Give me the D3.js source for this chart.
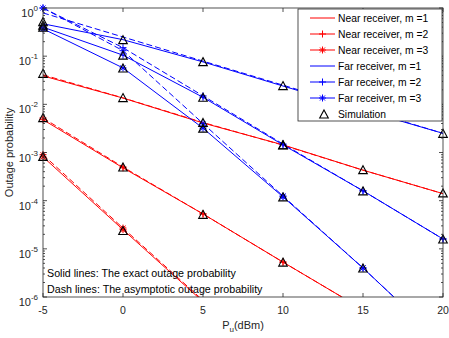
<!DOCTYPE html>
<html><head><meta charset="utf-8">
<script src="https://cdn.jsdelivr.net/npm/d3@7"></script>
<style>body{margin:0;background:#fff}svg{font-family:"Liberation Sans",Arial,sans-serif}</style>
</head><body><svg id="c" width="449" height="338"></svg>
<script>
const pu = [-5, 0, 5, 10, 15, 20];
const xTicks = [-5, 0, 5, 10, 15, 20];
const yTickExps = [0, -1, -2, -3, -4, -5, -6];

const nearExact1 = [0.039, 0.0135, 0.0041, 0.00144, 4.3e-4, 1.4e-4];
const nearAsym1  = [0.041, 0.0136, 0.0042, 0.00142, 4.3e-4, 1.4e-4];
const nearExact2 = [0.0048, 4.8e-4, 5.3e-5, 5.3e-6, 5.5e-7, 5.5e-8];
const nearAsym2  = [0.0052, 5.0e-4, 5.3e-5, 5.3e-6, 5.5e-7, 5.5e-8];
const nearExact3 = [8.1e-4, 2.5e-5, 8.0e-7, 2.6e-8, 8.2e-10, 2.6e-11];
const nearAsym3  = [9.0e-4, 2.7e-5, 8.5e-7, 2.7e-8, 8.4e-10, 2.6e-11];
const farExact1  = [0.47, 0.22, 0.076, 0.024, 0.0076, 0.0025];
const farAsym1   = [0.79, 0.25, 0.079, 0.025, 0.0079, 0.0025];
const farExact2  = [0.40, 0.105, 0.014, 0.00144, 1.6e-4, 1.6e-5];
const farAsym2   = [1.0, 0.15, 0.015, 0.0015, 1.6e-4, 1.6e-5];
const farExact3  = [0.37, 0.057, 0.0032, 1.2e-4, 4.0e-6, 1.1e-7];
const farAsym3   = [1.0, 0.13, 0.0040, 1.25e-4, 4.0e-6, 1.1e-7];

const simNear1 = [0.044, 0.0138, 0.0042, 0.00145, 4.4e-4, 1.45e-4];
const simNear2 = [0.0053, 5.0e-4, 5.2e-5, 5.3e-6, null, null];
const simNear3 = [8.3e-4, 2.4e-5, null, null, null, null];
const simFar1  = [0.52, 0.22, 0.077, 0.0245, 0.0077, 0.0025];
const simFar2  = [0.44, 0.105, 0.014, 0.00144, 1.6e-4, 1.6e-5];
const simFar3  = [0.40, 0.057, 0.0032, 1.2e-4, 4.0e-6, null];

const legendLabels = ["Near receiver, m =1", "Near receiver, m =2", "Near receiver, m =3",
  "Far receiver, m =1", "Far receiver, m =2", "Far receiver, m =3", "Simulation"];
const noteLines = ["Solid lines: The exact outage probability", "Dash lines: The asymptotic outage probability"];

const RED = "#ff0000", BLUE = "#0000ff", AX = "#262626";
const svg = d3.select("#c");
const L = 43, R = 443, T = 8, B = 297;
const x = d3.scaleLinear().domain([-5, 20]).range([L, R]);
const y = d3.scaleLog().domain([1e-6, 1]).range([B, T]);

svg.append("defs").append("clipPath").attr("id", "clip")
  .append("rect").attr("x", L).attr("y", T).attr("width", R - L).attr("height", B - T);

const series = [
  {exact: nearExact1, asym: nearAsym1, sim: simNear1, color: RED, marker: null},
  {exact: nearExact2, asym: nearAsym2, sim: simNear2, color: RED, marker: "plus"},
  {exact: nearExact3, asym: nearAsym3, sim: simNear3, color: RED, marker: "star"},
  {exact: farExact1, asym: farAsym1, sim: simFar1, color: BLUE, marker: null},
  {exact: farExact2, asym: farAsym2, sim: simFar2, color: BLUE, marker: "plus"},
  {exact: farExact3, asym: farAsym3, sim: simFar3, color: BLUE, marker: "star"}
];

function markerPath(type, s) {
  const h = s / 2;
  if (type === "plus") return `M${-h},0H${h}M0,${-h}V${h}`;
  if (type === "star") {
    const d = h * 0.72;
    return `M${-h},0H${h}M0,${-h}V${h}M${-d},${-d}L${d},${d}M${-d},${d}L${d},${-d}`;
  }
  if (type === "tri") {
    const w = 4.3, hh = 4.0;
    return `M0,${-hh}L${w},${hh}L${-w},${hh}Z`;
  }
  return "";
}

const line = d3.line().x((d, i) => x(pu[i])).y(d => y(d));
const plotG = svg.append("g").attr("clip-path", "url(#clip)");

series.forEach(s => {
  plotG.append("path").attr("d", line(s.asym)).attr("fill", "none")
    .attr("stroke", s.color).attr("stroke-width", 1).attr("stroke-dasharray", "6,3");
});
series.forEach(s => {
  plotG.append("path").attr("d", line(s.exact)).attr("fill", "none")
    .attr("stroke", s.color).attr("stroke-width", 1);
});

const mk = svg.append("g");
series.forEach(s => {
  if (!s.marker) return;
  [s.asym, s.exact].forEach(arr => {
    arr.forEach((v, i) => {
      if (v < 1e-6 || v > 1) return;
      mk.append("path").attr("d", markerPath(s.marker, 7))
        .attr("transform", `translate(${x(pu[i])},${y(v)})`)
        .attr("stroke", s.color).attr("stroke-width", 1).attr("fill", "none");
    });
  });
});
series.forEach(s => {
  s.sim.forEach((v, i) => {
    if (v == null) return;
    mk.append("path").attr("d", markerPath("tri"))
      .attr("transform", `translate(${x(pu[i])},${y(v)})`)
      .attr("stroke", "#000").attr("stroke-width", 1.1).attr("fill", "none");
  });
});

svg.append("rect").attr("x", L).attr("y", T).attr("width", R - L).attr("height", B - T)
  .attr("fill", "none").attr("stroke", AX).attr("stroke-width", 0.8);

const axG = svg.append("g").attr("stroke", AX).attr("stroke-width", 0.8);
xTicks.forEach(t => {
  axG.append("line").attr("x1", x(t)).attr("x2", x(t)).attr("y1", B).attr("y2", B - 4);
  axG.append("line").attr("x1", x(t)).attr("x2", x(t)).attr("y1", T).attr("y2", T + 4);
  svg.append("text").attr("x", x(t)).attr("y", 314).attr("text-anchor", "middle")
    .attr("font-size", 10.5).attr("fill", AX).text(t);
});
yTickExps.forEach(e => {
  const yy = y(Math.pow(10, e));
  axG.append("line").attr("x1", L).attr("x2", L + 4).attr("y1", yy).attr("y2", yy);
  axG.append("line").attr("x1", R).attr("x2", R - 4).attr("y1", yy).attr("y2", yy);
  if (e > -6) {
    for (let k = 2; k <= 9; k++) {
      const ym = y(k * Math.pow(10, e - 1));
      axG.append("line").attr("x1", L).attr("x2", L + 2).attr("y1", ym).attr("y2", ym);
      axG.append("line").attr("x1", R).attr("x2", R - 2).attr("y1", ym).attr("y2", ym);
    }
  }
  const tx = svg.append("text").attr("x", 38).attr("y", yy + 9).attr("text-anchor", "end")
    .attr("font-size", 11).attr("fill", AX);
  tx.append("tspan").text("10");
  tx.append("tspan").attr("dy", -6).attr("font-size", 8).text(e);
});

svg.append("text").attr("transform", `translate(13,${(T + B) / 2}) rotate(-90)`)
  .attr("text-anchor", "middle").attr("font-size", 11).attr("fill", AX).text("Outage probability");
const xl = svg.append("text").attr("x", (L + R) / 2).attr("y", 329).attr("text-anchor", "middle")
  .attr("font-size", 11).attr("fill", AX);
xl.append("tspan").text("P");
xl.append("tspan").attr("dy", 3).attr("font-size", 8).text("u");
xl.append("tspan").attr("dy", -3).text("(dBm)");

noteLines.forEach((t, i) => {
  svg.append("text").attr("x", 47).attr("y", 277 + i * 16).attr("font-size", 10.7)
    .attr("fill", "#000").text(t);
});

const lg = svg.append("g");
lg.append("rect").attr("x", 298).attr("y", 9).attr("width", 144).attr("height", 112)
  .attr("fill", "#fff").attr("stroke", AX).attr("stroke-width", 0.8);
legendLabels.forEach((lab, i) => {
  const yy = 18 + i * 16;
  if (i < 6) {
    const s = series[i];
    lg.append("line").attr("x1", 310).attr("x2", 335).attr("y1", yy).attr("y2", yy)
      .attr("stroke", s.color).attr("stroke-width", 1);
    if (s.marker) lg.append("path").attr("d", markerPath(s.marker, 7))
      .attr("transform", `translate(322.5,${yy})`).attr("stroke", s.color).attr("fill", "none");
  } else {
    lg.append("path").attr("d", markerPath("tri")).attr("transform", `translate(324,${yy})`)
      .attr("stroke", "#000").attr("stroke-width", 1.1).attr("fill", "none");
  }
  lg.append("text").attr("x", 338).attr("y", yy + 3.5).attr("font-size", 10.3).attr("fill", "#000").text(lab);
});
</script></body></html>
